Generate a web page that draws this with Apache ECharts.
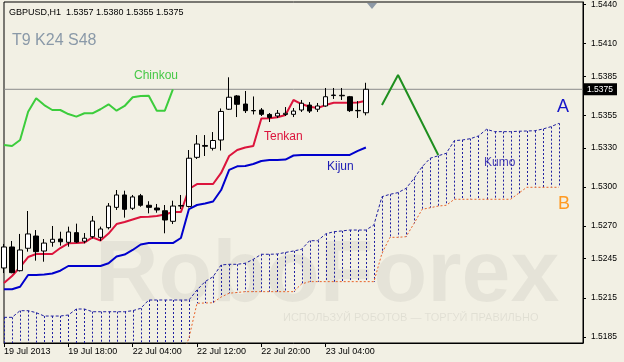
<!DOCTYPE html>
<html><head><meta charset="utf-8">
<script src="https://cdn.jsdelivr.net/npm/echarts@6/dist/echarts.min.js"></script>
<style>html,body{margin:0;padding:0;background:#f2f0e4}#c{width:624px;height:362px}</style>
</head><body><div id="c"></div>
<script>
// ---- data (prices) ----
const candleOpen  = [1.52379,1.52540,1.52358,1.52530,1.52624,1.52509,1.52576,1.52601,1.52576,1.52650,1.52584,1.52619,1.52614,1.52688,1.52844,1.52939,1.52837,1.52933,1.52860,1.52839,1.52818,1.52737,1.52854,1.52851,1.53228,1.53319,1.53297,1.53361,1.53597,1.53699,1.53637,1.53587,1.53591,1.53557,1.53545,1.53557,1.53558,1.53591,1.53629,1.53597,1.53622,1.53702,1.53700,1.53693,1.53588,1.5357];
const candleHigh  = [1.52563,1.52586,1.52640,1.52816,1.52670,1.52601,1.52701,1.52657,1.52696,1.52719,1.52647,1.52778,1.52696,1.52877,1.52977,1.52972,1.52939,1.52947,1.52891,1.52870,1.52862,1.52895,1.52939,1.53284,1.53399,1.53399,1.53422,1.53603,1.53842,1.53706,1.53737,1.53695,1.53606,1.53568,1.53591,1.53614,1.53606,1.53668,1.53652,1.53645,1.53760,1.53760,1.53760,1.53699,1.53660,1.5380];
const candleLow   = [1.52340,1.52338,1.52352,1.52504,1.52435,1.52427,1.52542,1.52550,1.52542,1.52572,1.52568,1.52605,1.52586,1.52675,1.52824,1.52765,1.52824,1.52849,1.52798,1.52803,1.52645,1.52716,1.52831,1.52843,1.53215,1.53238,1.53280,1.53280,1.53591,1.53537,1.53568,1.53557,1.53545,1.53499,1.53530,1.53545,1.53537,1.53576,1.53568,1.53576,1.53616,1.53676,1.53668,1.53576,1.53530,1.5355];
const candleClose = [1.52540,1.52343,1.52517,1.52640,1.52504,1.52570,1.52599,1.52580,1.52655,1.52578,1.52607,1.52739,1.52678,1.52854,1.52939,1.52829,1.52924,1.52860,1.52844,1.52824,1.52747,1.52854,1.52858,1.53221,1.53330,1.53313,1.53357,1.53580,1.53689,1.53635,1.53586,1.53585,1.53558,1.53534,1.53566,1.53566,1.53583,1.53643,1.53583,1.53622,1.53693,1.53706,1.53704,1.53586,1.53585,1.5375];

const tenkan = [1.52264,1.52317,1.52386,1.52463,1.52486,1.52486,1.52486,1.52532,1.52568,1.52570,1.52574,1.52614,1.52590,1.52643,1.52716,1.52732,1.52751,1.52770,1.52772,1.52778,1.52789,1.52808,1.52808,1.52985,1.53023,1.53023,1.53023,1.53108,1.53238,1.53284,1.53303,1.53315,1.53526,1.53527,1.53535,1.53553,1.53668,1.53637,1.53616,1.53606,1.53629,1.53647,1.53647,1.53647,1.53649,1.53662];
const kijun = [1.52215,1.52215,1.52235,1.52325,1.52325,1.52329,1.52336,1.52358,1.52394,1.52394,1.52394,1.52394,1.52394,1.52415,1.52467,1.52482,1.52517,1.52559,1.52570,1.52570,1.52570,1.52570,1.52609,1.52831,1.52862,1.52874,1.52889,1.52977,1.53131,1.53159,1.53161,1.53177,1.53200,1.53207,1.53207,1.53211,1.53242,1.53246,1.53246,1.53246,1.53246,1.53246,1.53246,1.53246,1.53277,1.53303];
const chinkou = [1.53323,1.53315,1.53361,1.53578,1.53681,1.53629,1.53591,1.53591,1.53560,1.53540,1.53566,1.53566,1.53597,1.53635,1.53586,1.53622,1.53689,1.53699,1.53701,1.53586,1.53586,1.53750];
const senkouA = [1.52000,1.52000,1.52051,1.52051,1.52036,1.52010,1.52010,1.52010,1.52018,1.52064,1.52064,1.52043,1.52043,1.52043,1.52043,1.52043,1.52051,1.52069,1.52133,1.52133,1.52133,1.52133,1.52133,1.52133,1.52210,1.52274,1.52312,1.52402,1.52407,1.52407,1.52415,1.52445,1.52484,1.52484,1.52486,1.52498,1.52509,1.52522,1.52588,1.52588,1.52640,1.52657,1.52663,1.52670,1.52670,1.52670,1.52709,1.52926,1.52944,1.52957,1.52990,1.53067,1.53156,1.53221,1.53240,1.53259,1.53356,1.53361,1.53371,1.53392,1.53443,1.53425,1.53425,1.53425,1.53428,1.53430,1.53432,1.53445,1.53463,1.53489];
const senkouB = [1.5168,1.5168,1.5168,1.5168,1.5168,1.5168,1.5168,1.5168,1.5168,1.5168,1.5168,1.5168,1.5168,1.5168,1.5168,1.5168,1.5168,1.5168,1.5168,1.5168,1.5168,1.5168,1.5168,1.51842,1.52108,1.52110,1.52112,1.52156,1.52185,1.52191,1.52197,1.52197,1.52197,1.52197,1.52197,1.52197,1.52197,1.52256,1.52274,1.52274,1.52274,1.52274,1.52274,1.52274,1.52274,1.52274,1.52274,1.52491,1.52614,1.52614,1.52619,1.52722,1.52829,1.52841,1.52854,1.52860,1.52906,1.52906,1.52906,1.52906,1.52906,1.52906,1.52906,1.52906,1.52952,1.52998,1.52998,1.52998,1.52998,1.52998];
// hand-drawn trend arrow (bar index, price)
const arrowIdx = [47, 49, 54];
const arrowPrice = [1.53630, 1.53860, 1.53246];

const slotCount = 73;
const xTickIndex = [0, 8, 16, 24, 32, 40];
const xTickLabel = ['19 Jul 2013', '19 Jul 18:00', '22 Jul 04:00', '22 Jul 12:00', '22 Jul 20:00', '23 Jul 04:00'];
const yTicks = [1.5440, 1.5410, 1.5385, 1.5355, 1.5330, 1.5300, 1.5270, 1.5245, 1.5215, 1.5185];
const lastPrice = 1.5375;
const yMin = 1.518031, yMax = 1.544199;

// ---- chart ----
const FONT = '"Liberation Sans", Arial, sans-serif';
const categories = [];
for (let i = 0; i < slotCount; i++) categories.push(String(i));
const candleData = candleOpen.map((o, i) => [o, candleClose[i], candleLow[i], candleHigh[i]]);
const kumoData = senkouA.map((a, i) => [i, a, senkouB[i]]);
const arrowData = arrowIdx.map((x, i) => [x, arrowPrice[i]]);
const closeLevelData = [[0, lastPrice], [slotCount - 1, lastPrice]];

const chart = echarts.init(document.getElementById('c'), null, {renderer: 'canvas'});
const option = {
  animation: false,
  backgroundColor: '#f2f0e4',
  textStyle: {fontFamily: FONT},
  grid: {left: 4, top: 2, width: 579, height: 341, show: true, borderColor: '#000', borderWidth: 1,
         containLabel: false, outerBoundsMode: 'none'},
  xAxis: {
    type: 'category', data: categories, boundaryGap: false,
    axisLine: {show: true, lineStyle: {color: '#000', width: 1}},
    axisTick: {show: true, length: 4, interval: (i) => xTickIndex.indexOf(i) >= 0, lineStyle: {color: '#000'}},
    axisLabel: {show: true, interval: (i) => xTickIndex.indexOf(i) >= 0,
      formatter: (v, i) => { const k = xTickIndex.indexOf(Number(v)); return k >= 0 ? xTickLabel[k] : ''; },
      align: 'left', margin: 4, fontSize: 9, color: '#000', fontFamily: FONT},
    splitLine: {show: false}
  },
  yAxis: [{
    type: 'value', position: 'right', min: yMin, max: yMax, scale: true,
    axisLine: {show: true, lineStyle: {color: '#000'}},
    axisTick: {show: true, length: 3, customValues: yTicks, lineStyle: {color: '#000'}},
    axisLabel: {show: true, customValues: yTicks, formatter: (v) => Number(v).toFixed(4),
      margin: 8, fontSize: 8.5, color: '#000', fontFamily: FONT},
    splitLine: {show: false}
  }, {
    type: 'value', position: 'right', min: yMin, max: yMax, scale: true, z: 10,
    axisLine: {show: false}, axisTick: {show: false}, splitLine: {show: false},
    axisLabel: {show: true, customValues: [lastPrice], formatter: (v) => Number(v).toFixed(4),
      margin: 1, fontSize: 8.5, color: '#fff', backgroundColor: '#000', padding: [2, 4, 1, 3], fontFamily: FONT}
  }],
  series: [
    {
      name: 'Kumo', type: 'custom', clip: true, z: 1,
      encode: {x: 0, y: [1, 2]},
      data: kumoData,
      renderItem: function (params, api) {
        const p1 = api.coord([api.value(0), api.value(1)]);
        const p2 = api.coord([api.value(0), api.value(2)]);
        const x = Math.round(p1[0]) + 0.5;
        return {type: 'line', shape: {x1: x, y1: p1[1], x2: x, y2: p2[1]},
                style: {stroke: '#1f1fa0', lineWidth: 1, lineDash: [2, 2]}};
      }
    },
    {name: 'Close level', type: 'line', data: closeLevelData, symbol: 'none', z: 1, silent: true,
     lineStyle: {color: '#8a8a8a', width: 1}},
    {name: 'Senkou A', type: 'line', data: senkouA, symbol: 'none', z: 2,
     lineStyle: {color: '#1f1fa0', width: 1, type: [3, 2]}},
    {name: 'Senkou B', type: 'line', data: senkouB, symbol: 'none', z: 2,
     lineStyle: {color: '#e8642a', width: 1, type: [2, 2]}},
    {name: 'Kijun', type: 'line', data: kijun, symbol: 'none', z: 3,
     lineStyle: {color: '#0000cd', width: 2}},
    {name: 'Tenkan', type: 'line', data: tenkan, symbol: 'none', z: 3,
     lineStyle: {color: '#dc143c', width: 2}},
    {name: 'Chinkou', type: 'line', data: chinkou, symbol: 'none', z: 3,
     lineStyle: {color: '#3ccd3c', width: 2}},
    {name: 'GBPUSD', type: 'candlestick', data: candleData, barWidth: 5, z: 4,
     itemStyle: {color: '#ffffff', color0: '#000000', borderColor: '#000000', borderColor0: '#000000', borderWidth: 1}},
    {name: 'Arrow', type: 'line', data: arrowData, symbol: 'none', z: 5,
     lineStyle: {color: '#1f8f1f', width: 2}}
  ],
  graphic: [
    {type: 'text', x: 95, y: 277, z: 0, silent: true,
     style: {text: 'RoboForex', font: 'bold 88px ' + FONT, fill: 'rgba(0,0,0,0.05)', verticalAlign: 'middle', textVerticalAlign: 'middle'}},
    {type: 'text', x: 283, y: 318, z: 0, silent: true,
     style: {text: 'ИСПОЛЬЗУЙ РОБОТОВ — ТОРГУЙ ПРАВИЛЬНО', font: '11px ' + FONT, fill: 'rgba(0,0,0,0.07)', verticalAlign: 'middle', textVerticalAlign: 'middle'}},
    {type: 'text', x: 9, y: 13, style: {text: 'GBPUSD,H1  1.5357 1.5380 1.5355 1.5375', font: '9px ' + FONT, fill: '#000', verticalAlign: 'middle', textVerticalAlign: 'middle'}},
    {type: 'text', x: 12, y: 41, style: {text: 'T9 K24 S48', font: '16px ' + FONT, fill: '#8a99a8', verticalAlign: 'middle', textVerticalAlign: 'middle'}},
    {type: 'text', x: 134, y: 76, style: {text: 'Chinkou', font: '12px ' + FONT, fill: '#46c846', verticalAlign: 'middle', textVerticalAlign: 'middle'}},
    {type: 'text', x: 264, y: 137, style: {text: 'Tenkan', font: '12px ' + FONT, fill: '#dc143c', verticalAlign: 'middle', textVerticalAlign: 'middle'}},
    {type: 'text', x: 327, y: 167, style: {text: 'Kijun', font: '12px ' + FONT, fill: '#1c1cb4', verticalAlign: 'middle', textVerticalAlign: 'middle'}},
    {type: 'text', x: 484, y: 163, style: {text: 'Kumo', font: '12px ' + FONT, fill: '#4a40b8', verticalAlign: 'middle', textVerticalAlign: 'middle'}},
    {type: 'text', x: 557, y: 107, style: {text: 'A', font: '18px ' + FONT, fill: '#1515c8', verticalAlign: 'middle', textVerticalAlign: 'middle'}},
    {type: 'text', x: 558, y: 204, style: {text: 'B', font: '18px ' + FONT, fill: '#ff9a22', verticalAlign: 'middle', textVerticalAlign: 'middle'}},
    {type: 'polygon', shape: {points: [[367, 3], [377, 3], [372, 9]]}, style: {fill: '#8d99a6'}}
  ]
};
chart.setOption(option);
</script>
</body></html>
